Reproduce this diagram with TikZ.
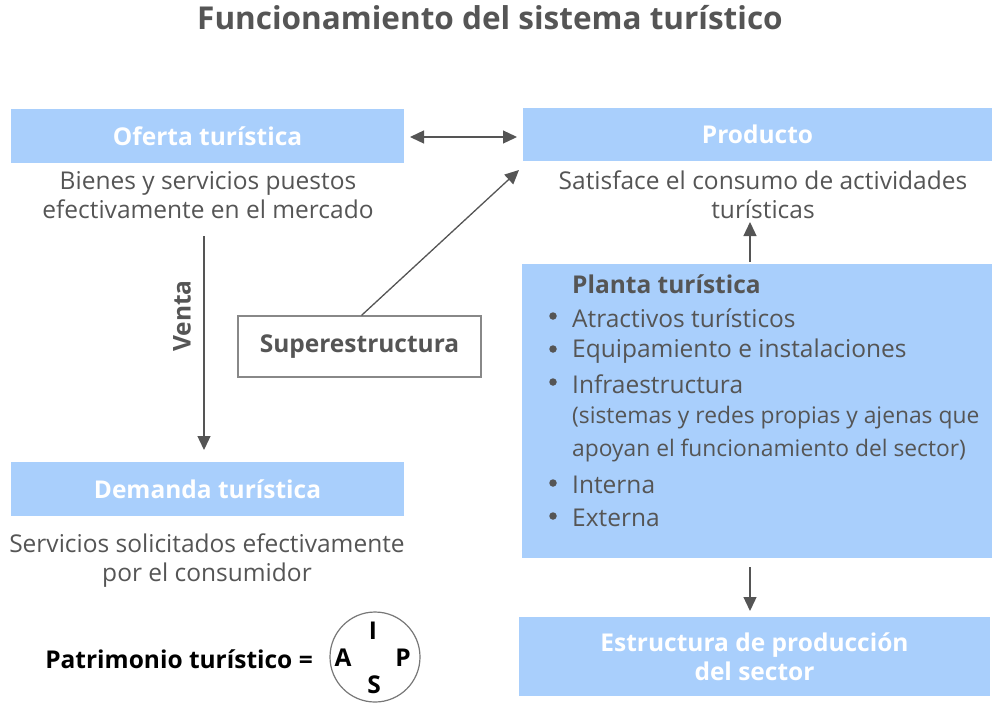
\documentclass[tikz,border=0pt]{standalone}
\usepackage{fontspec}
\setmainfont{Open Sans}
\usetikzlibrary{arrows.meta}
\definecolor{boxblue}{HTML}{A9CFFC}
\definecolor{txtgray}{HTML}{555555}
\newcommand{\fs}{\fontsize{24.5}{29}\selectfont}
\begin{document}
\begin{tikzpicture}[x=1pt,y=-1pt,
  bluebox/.style={fill=boxblue,draw=none,inner sep=0pt,text=white,font=\fs\bfseries,align=center},
  desc/.style={text=txtgray,font=\fs,align=center,inner sep=0pt},
  arr/.style={draw=txtgray,line width=1.3pt,-{Triangle[length=14pt,width=13pt]}},
  item/.style={text=txtgray,font=\fs,anchor=west,inner sep=0pt},
  bul/.style={circle,fill=txtgray,inner sep=0pt,minimum size=7.5pt}]
\useasboundingbox (0,0) rectangle (1000,705);
\node[text=txtgray,font=\fontsize{31.5}{34}\selectfont\bfseries] (title) at (490,18) {Funcionamiento del sistema turístico};
% boxes
\node[bluebox,minimum width=393pt,minimum height=54pt] (oferta) at (207.5,136) {Oferta turística};
\node[bluebox,minimum width=469pt,minimum height=53pt] (producto) at (757.5,134.5) {Producto};
\node[bluebox,minimum width=393pt,minimum height=54pt] (demanda) at (207.5,489) {Demanda turística};
\node[bluebox,minimum width=470pt,minimum height=294pt] (planta) at (757,411) {};
\node[bluebox,minimum width=471pt,minimum height=79pt] (estructura) at (754.5,656.5) {Estructura de producción\\del sector};
\node[draw=txtgray!70,line width=1.2pt,fill=white,minimum width=243pt,minimum height=61pt,inner sep=0pt,text=txtgray,font=\fs\bfseries] (super) at (359.5,346.5) {Superestructura};
% descriptions
\node[desc] (bienes) at (208,195) {Bienes y servicios puestos\\efectivamente en el mercado};
\node[desc] (satisface) at (763,195) {Satisface el consumo de actividades\\turísticas};
\node[desc] (servicios) at (207,561) {Servicios solicitados efectivamente\\por el consumidor};
% planta items
\node[item,font=\fs\bfseries] (p0) at (572,284) {Planta turística};
\node[item] (p1) at (572,318) {Atractivos turísticos};
\node[item] (p2) at (572,351) {Equipamiento e instalaciones};
\node[item] (p3) at (572,384) {Infraestructura};
\node[item,font=\fontsize{22.8}{29}\selectfont] (p4) at (572,418) {(sistemas y redes propias y ajenas que};
\node[item,font=\fontsize{22.8}{29}\selectfont] (p5) at (572,451) {apoyan el funcionamiento del sector)};
\node[item] (p6) at (572,485) {Interna};
\node[item] (p7) at (572,518) {Externa};
\foreach \n in {p1,p2,p3,p6,p7} \node[bul] at ([xshift=-19pt,yshift=2pt]\n.west) {};
% arrows
\coordinate (da1) at (410,137);
\coordinate (da2) at (517,137);
\draw[draw=txtgray,line width=1.3pt,{Triangle[length=14pt,width=13pt]}-{Triangle[length=14pt,width=13pt]}] (da1) -- (da2);
\coordinate (vtop) at (204,236);
\coordinate (vbot) at (204,450);
\coordinate (ptop) at (750,262);
\coordinate (pbot) at (750,567);
\draw[arr] (vtop) -- (vbot);
\node[text=txtgray,font=\fs\bfseries,rotate=90,inner sep=0pt] (venta) at (182,316) {Venta};
\draw[arr] (ptop) -- (750,222);
\draw[arr] (pbot) -- (750,611);
\draw[arr] (super.north) ++(2pt,0) -- (519,170);
% patrimonio
\node[font=\fs\bfseries,anchor=east,inner sep=0pt] (patri) at (313,659) {Patrimonio turístico =};
\node[circle,draw=txtgray!80,line width=1.2pt,minimum size=90pt,inner sep=0pt] (circ) at (375,657) {};
\node[font=\fs\bfseries,inner sep=0pt] (li) at (373,631) {I};
\node[font=\fs\bfseries,inner sep=0pt] (la) at (343,658) {A};
\node[font=\fs\bfseries,inner sep=0pt] (lp) at (403,658) {P};
\node[font=\fs\bfseries,inner sep=0pt] (ls) at (374,685) {S};
\end{tikzpicture}
\end{document}
